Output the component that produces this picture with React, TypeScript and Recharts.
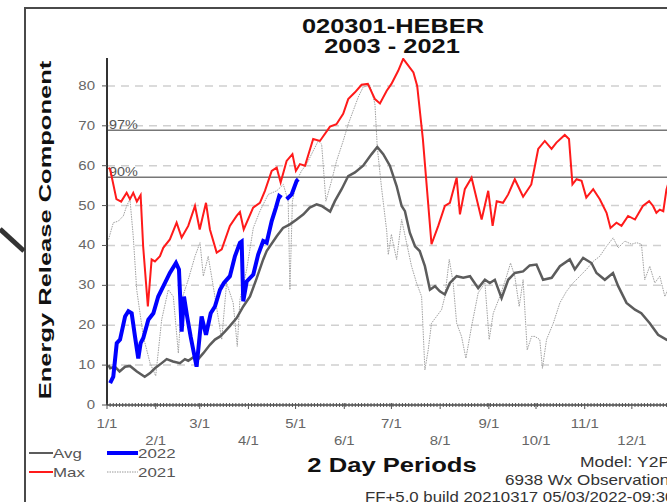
import React from 'react';
import { LineChart, Line, XAxis, YAxis, CartesianGrid, ReferenceLine } from 'recharts';

// x = day of year (0 = 1/1), values = ERC
const MONTH_DAYS = [0, 31, 59, 90, 120, 151, 181, 212, 243, 273, 304, 334];
const MONTH_LABELS = ['1/1', '2/1', '3/1', '4/1', '5/1', '6/1', '7/1', '8/1', '9/1', '10/1', '11/1', '12/1'];
const Y_TICKS = [0, 10, 20, 30, 40, 50, 60, 70, 80];
const P97 = 68.9;
const P90 = 57.1;

const AVG: [number, number][] = [
  [1, 10], [2, 9.2], [5, 9.6], [8, 8.4], [11.5, 9.6], [14.6, 9.8], [19, 8.4], [24, 7.1], [27.4, 8], [30.5, 9.2],
  [34.8, 10.5], [38, 11.5], [42, 10.9], [46.4, 10.5], [49.6, 11.5], [51.7, 11.1], [55, 12], [58, 11.5], [61.3, 13],
  [65.5, 15.1], [68.7, 16.4], [72, 17.2], [75, 18.4], [78, 19.7], [82.5, 21.8], [86.7, 24.7], [91, 27.2], [95, 31.5],
  [99.4, 36.5], [101.6, 38.6], [108, 42.3], [112, 44.4], [116.4, 45.3], [120.7, 46.5], [125, 47.8], [129, 49.5],
  [133.4, 50.3], [136.6, 49.9], [142, 48.5], [145, 51.1], [149.3, 54.1], [153.5, 57.4], [157.8, 58.3], [163, 60],
  [168.4, 62.9], [172, 64.7], [175.8, 62.9], [180, 60], [184.3, 54.9], [187.5, 49.9], [189.6, 48.6], [192.7, 43.2],
  [196, 39.8], [199, 38.6], [202.3, 34.8], [205.5, 28.9], [208.7, 29.8], [211.8, 28.5], [215, 27.7], [218.2, 30.6],
  [222.5, 32.3], [226.7, 31.9], [231, 32.3], [236.2, 29.3], [240.5, 31.4], [243.6, 30.6], [246.8, 31.4], [251.1, 26.8],
  [255.3, 31.4], [259.5, 33.1], [264.8, 33.5], [269, 35], [273.3, 35.2], [277.5, 31.4], [283, 31.9], [288.2, 34.8],
  [294.5, 36.5], [297.7, 34], [303, 36.9], [308.3, 35.6], [311.5, 33.1], [316.8, 31.4], [322, 33.1], [325.3, 29.8],
  [330.6, 25.6], [336, 23.9], [340, 23], [345.4, 20.5], [350.7, 17.6], [356, 16.4], [360, 15.5], [364, 15],
];

const MAX: [number, number][] = [
  [1, 59.5], [2, 59.1], [6, 51.6], [9, 51], [12.5, 53.2], [14.6, 51.6], [16.7, 53.2], [19, 51], [21.4, 52.6],
  [23, 39.8], [26, 24.7], [28.4, 36.5], [30.5, 36], [33.7, 37.3], [35.8, 39.4], [40, 41.5], [44.3, 45.7],
  [47.5, 42], [51.7, 44.9], [56, 49.9], [59, 44], [63, 50.7], [65.5, 44], [69.8, 38.2], [73, 39], [78.2, 44.9],
  [82.5, 47.4], [84.6, 48.4], [87, 44], [93, 49.5], [97.3, 50.7], [100.5, 53.7], [104.8, 58.7], [108, 59.5],
  [110.5, 55.8], [114.3, 61.2], [118, 62.9], [120.2, 58.7], [122.8, 60.4], [126, 60], [131.2, 66.7], [135.5, 66.2],
  [141.9, 69.8], [146, 70.4], [150.3, 73], [153.5, 76.7], [157.8, 78.4], [162, 80.3], [166, 80.5], [170.5, 76.7],
  [173.7, 75.6], [178, 78.8], [181, 80.5], [185.3, 83.8], [188.5, 86.8], [195, 83.4], [197.4, 80], [201, 66.7],
  [206.5, 40.3], [210.8, 44.9], [215, 49.9], [218.2, 50.7], [222.5, 57], [224.6, 47.8], [227.7, 54.1], [232, 57],
  [238.4, 46.5], [242.6, 53.7], [245.4, 44.9], [248, 51.1], [252, 50.7], [255.3, 52.8], [259.5, 56.6], [264.8, 52.2],
  [270, 55.3], [274.4, 64.2], [278.6, 66.2], [282.9, 64.2], [286, 65.8], [291.3, 67.7], [294, 66.7], [296.2, 55.3],
  [298.8, 56.6], [302, 56.2], [305, 52], [309.4, 54.1], [313.6, 51.6], [317.9, 48.2], [320.4, 44.4], [324.2, 45.7],
  [327.4, 44.9], [331.6, 47.4], [336, 46.5], [341, 49.9], [345, 51.1], [347.5, 49.9], [349.6, 48.2], [351.8, 49],
  [354, 48.6], [356, 54], [359, 58], [364, 56],
];

const Y2022: [number, number | null][] = [
  [2, 5.5], [4, 7.1], [6.2, 15.5], [8.3, 16.4], [11.5, 22.2], [13.6, 23.5], [15.7, 23], [17.8, 17.2], [19.9, 11.7],
  [21.4, 15.5], [23.1, 16.8], [26.3, 21.4], [29.5, 23], [32.6, 27.2], [36.9, 30.6], [40, 33.1], [43.9, 35.6],
  [45.8, 34], [47.5, 18.4], [49, 27.2], [51, 22.2], [53.2, 17.2], [57, 9.6], [60.2, 22.2], [63, 17.6], [66, 23],
  [68.7, 24.7], [71.9, 28.9], [74.4, 30.6], [78.2, 32.3], [81.4, 37.3], [84.6, 40.7], [85.7, 41], [86.7, 26],
  [88.9, 31], [93.1, 32.7], [96.2, 37.7], [99.4, 41.1], [101.6, 40.7], [104.8, 46.1], [107.5, 49.5], [109.6, 52.4],
  [111.1, 52], [112.7, null], [114.3, 51.6], [117.5, 52.8], [120.7, 56.2], [121.7, 56.6],
];

const Y2021: [number, number][] = [
  [1, 41.5], [4, 45.7], [7.2, 46.1], [10.4, 47.4], [12.5, 49.9], [14.6, 51.6], [16.7, 42.3], [18.9, 28.9],
  [23.1, 17.2], [27.4, 10.5], [31, 7.3], [34.8, 21.4], [39, 28.9], [42.2, 27.2], [45.4, 13], [47.5, 26.4],
  [51.7, 31.4], [56, 37.3], [59.2, 40.7], [61.3, 32.3], [64.4, 37.3], [67.6, 29.8], [73, 16.4], [76.1, 30.6],
  [80.3, 25.6], [82.9, 14.7], [84.6, 26.4], [88.9, 34], [93.1, 44.4], [97.3, 48.6], [102.6, 52.8], [108, 53.7],
  [112.2, 55.3], [115.3, 51.1], [116.4, 28.9], [118, 51.1], [120.7, 56.2], [123.8, 58.7], [127, 60.4], [131.2, 63.7],
  [134.4, 66.2], [136.6, 65.4], [139.3, 51.1], [142.9, 56.2], [146.1, 61.2], [150.3, 66.2], [153.5, 70.4],
  [156.7, 73.8], [159.9, 77.2], [163, 79.7], [167.3, 80.2], [170.5, 75.5], [172, 64.6], [174.7, 54.5], [178, 43.6],
  [179, 37.7], [181, 42.8], [182, 40.7], [184.3, 36.5], [187.5, 46.5], [190.6, 40.7], [193.8, 34.8], [197, 30.6],
  [200.2, 27.2], [202.3, 8.8], [204.4, 13.8], [206.5, 20.5], [209.7, 22.2], [212.9, 23.9], [215, 27.2],
  [217.8, 36.5], [220.3, 30.6], [222.5, 20.5], [225.6, 17.2], [228.4, 11.7], [232, 19.7], [236.2, 28.1],
  [240.5, 30.6], [243.2, 16.4], [245.8, 23], [250, 27.2], [254.3, 32.3], [256.8, 35.6], [259.5, 32.3],
  [262.3, 24.7], [264.8, 31.4], [267.4, 13.8], [270.2, 17.2], [272.3, 17.2], [275.4, 16.4], [277.1, 9.2],
  [279.7, 16.4], [284, 20.5], [288.2, 25.6], [292.4, 28.5], [296.6, 30.6], [300.9, 32.3], [305.1, 34], [309.4, 36],
  [313.6, 37.3], [317.9, 39.8], [322.1, 41.9], [325.3, 39.4], [329.5, 41.1], [333.8, 40.3], [337, 40.7],
  [340.1, 40.3], [342.2, 31.4], [345.4, 34.8], [348.6, 30.6], [351.8, 32.3], [355, 27.2], [358, 30], [364, 28],
];

const toRows = (pts: [number, number | null][]) => pts.map(([day, v]) => ({ day, v }));

// axis ticks: every 2-day period plus month starts
const PERIOD_TICKS = Array.from({ length: 183 }, (_, i) => i * 2);
const X_TICKS = Array.from(new Set([...PERIOD_TICKS, ...MONTH_DAYS])).sort((a, b) => a - b);

const FONT = '"Liberation Sans", Arial, sans-serif';

const XTick = (props: any) => {
  const { x, y, payload } = props;
  const idx = MONTH_DAYS.indexOf(payload.value);
  return (
    <g>
      <line x1={x} x2={x} y1={y - 2} y2={y + (idx >= 0 ? 4 : 2)} stroke="#555" strokeWidth={1} />
      {idx >= 0 && (
        <text
          transform={`translate(${x},${y + (idx % 2 === 0 ? 23 : 40)}) scale(1.15,1)`}
          textAnchor="middle"
          fontSize={13}
          fill="#666"
          fontFamily={FONT}
        >
          {MONTH_LABELS[idx]}
        </text>
      )}
    </g>
  );
};

const YTick = (props: any) => {
  const { x, y, payload } = props;
  return (
    <g>
      <line x1={x - 5} x2={x} y1={y} y2={y} stroke="#555" strokeWidth={1} />
      <text
        transform={`translate(${x - 12},${y + 4}) scale(1.25,1)`}
        textAnchor="end"
        fontSize={12}
        fill="#666"
        fontFamily={FONT}
      >
        {payload.value}
      </text>
    </g>
  );
};

const PctLabel = (props: any) => {
  const { viewBox, text } = props;
  return (
    <text
      transform={`translate(${viewBox.x + 2},${viewBox.y - 1}) scale(1.2,1)`}
      fontSize={12}
      fill="#555"
      fontFamily={FONT}
    >
      {text}
    </text>
  );
};

const T = (p: { x: number; y: number; s?: number; sx?: number; w?: any; c?: string; a?: any; children: any }) => (
  <text
    transform={`translate(${p.x},${p.y}) scale(${p.sx ?? 1.2},1)`}
    fontSize={p.s ?? 13}
    fontWeight={p.w ?? 'normal'}
    fill={p.c ?? '#333'}
    textAnchor={p.a ?? 'start'}
    fontFamily={FONT}
  >
    {p.children}
  </text>
);

export default function App() {
  return (
    <div style={{ position: 'absolute', left: 0, top: 0, width: 667, height: 502, overflow: 'hidden', background: '#fff' }}>
      <LineChart width={700} height={502} margin={{ top: 58, right: 21, left: 47, bottom: 57 }}>
        <CartesianGrid vertical={false} horizontalValues={Y_TICKS.slice(1)} stroke="#d0d0d0" strokeWidth={1.5} strokeDasharray="8 6" />
        <XAxis
          type="number"
          dataKey="day"
          domain={[0, 364]}
          ticks={X_TICKS}
          interval={0}
          tick={<XTick />}
          tickLine={false}
          tickSize={0}
          tickMargin={0}
          height={40}
          axisLine={{ stroke: '#444', strokeWidth: 1.5 }}
          allowDataOverflow
        />
        <YAxis
          type="number"
          domain={[0, 87]}
          ticks={Y_TICKS}
          interval={0}
          tick={<YTick />}
          tickLine={false}
          tickSize={0}
          tickMargin={0}
          width={60}
          axisLine={{ stroke: '#333', strokeWidth: 2 }}
          allowDataOverflow
        />
        <ReferenceLine y={P97} stroke="#777" strokeWidth={1.5} label={<PctLabel text="97%" />} />
        <ReferenceLine y={P90} stroke="#777" strokeWidth={1.5} label={<PctLabel text="90%" />} />
        <Line data={toRows(Y2021)} dataKey="v" type="linear" dot={false} stroke="#a0a0a0" strokeWidth={1} strokeDasharray="1.5 1" isAnimationActive={false} />
        <Line data={toRows(AVG)} dataKey="v" type="linear" dot={false} stroke="#5c5c5c" strokeWidth={2.5} isAnimationActive={false} />
        <Line data={toRows(MAX)} dataKey="v" type="linear" dot={false} stroke="#ff1a1a" strokeWidth={2} isAnimationActive={false} />
        <Line data={toRows(Y2022)} dataKey="v" type="linear" dot={false} stroke="#0000ff" strokeWidth={4} connectNulls={false} isAnimationActive={false} />
      </LineChart>

      <svg width={667} height={502} style={{ position: 'absolute', left: 0, top: 0, pointerEvents: 'none' }}>
        {/* frame + stray arrow from the screenshot */}
        <line x1={25} y1={8} x2={667} y2={8} stroke="#4a4a4a" strokeWidth={2} />
        <line x1={25} y1={7} x2={25} y2={502} stroke="#4a4a4a" strokeWidth={2} />
        <line x1={0} y1={229} x2={24} y2={251} stroke="#333" strokeWidth={5} />

        <T x={393} y={33} s={20} sx={1.27} w="bold" c="#111" a="middle">020301-HEBER</T>
        <T x={392} y={53} s={20} sx={1.27} w="bold" c="#111" a="middle">2003 - 2021</T>
        <text transform="translate(51,230) rotate(-90) scale(1.5,1)" textAnchor="middle" fontSize={17} fontWeight="bold" fill="#111" fontFamily={FONT}>
          Energy Release Component
        </text>

        {/* legend */}
        <line x1={29} y1={453} x2={53} y2={453} stroke="#5c5c5c" strokeWidth={2} />
        <T x={53} y={458} s={13} sx={1.3} c="#555">Avg</T>
        <line x1={29} y1={472} x2={53} y2={472} stroke="#ff1a1a" strokeWidth={2} />
        <T x={53} y={477} s={13} sx={1.3} c="#555">Max</T>
        <line x1={107} y1={453} x2={138} y2={453} stroke="#0000ff" strokeWidth={4} />
        <T x={138} y={458} s={13} sx={1.3} c="#555">2022</T>
        <line x1={107} y1={472} x2={138} y2={472} stroke="#999" strokeWidth={1} strokeDasharray="1.5 1" />
        <T x={138} y={477} s={13} sx={1.3} c="#555">2021</T>

        <T x={392} y={472} s={21} sx={1.22} w="bold" c="#111" a="middle">2 Day Periods</T>
        <T x={580} y={467} s={14} sx={1.25}>Model: Y2P</T>
        <T x={505} y={485} s={14} sx={1.22}>6938 Wx Observations</T>
        <T x={365} y={502} s={14} sx={1.2}>FF+5.0 build 20210317 05/03/2022-09:30</T>
      </svg>
    </div>
  );
}
